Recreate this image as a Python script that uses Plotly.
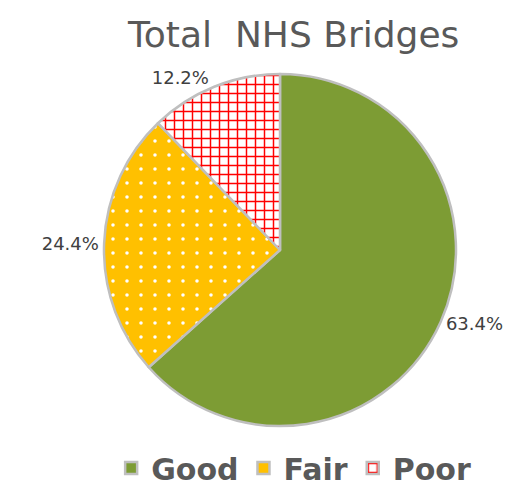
import plotly.graph_objects as go

categories = ["Good", "Fair", "Poor"]
values = [63.4, 24.4, 12.2]
text_labels = ["63.4%", "24.4%", "12.2%"]

fig = go.Figure(go.Pie(
    labels=categories,
    values=values,
    text=text_labels,
    textinfo="text",
    textposition="outside",
    sort=False,
    direction="clockwise",
    rotation=0,
    marker=dict(
        colors=["#7D9C34", "#FFC000", "#FFFFFF"],
        line=dict(color="#BFBFBF", width=2.5),
        pattern=dict(
            shape=["", ".", "+"],
            fgcolor=["#7D9C34", "#FFFFFF", "#FF0000"],
            bgcolor=["#7D9C34", "#FFC000", "#FFFFFF"],
            size=[8, 14, 9],
            solidity=[0.3, 0.05, 0.3],
            fillmode="replace",
        ),
    ),
    textfont=dict(family="DejaVu Sans", size=18, color="#404040"),
    domain=dict(x=[0, 1], y=[0, 1]),
))

fig.update_layout(
    width=529, height=486,
    paper_bgcolor="white",
    plot_bgcolor="white",
    margin=dict(l=0, r=0, t=66, b=48),
    title=dict(text="Total  NHS Bridges", x=0.54, xanchor="center", y=0.945, yanchor="middle",
               font=dict(family="DejaVu Sans", size=36, color="#595959")),
    legend=dict(orientation="h", x=0.535, xanchor="center", y=-0.046, yanchor="top",
                font=dict(family="DejaVu Sans", size=30, color="#595959", weight="bold"),
                itemwidth=30, traceorder="normal"),
    showlegend=True,
)

fig.write_html("out.html")
